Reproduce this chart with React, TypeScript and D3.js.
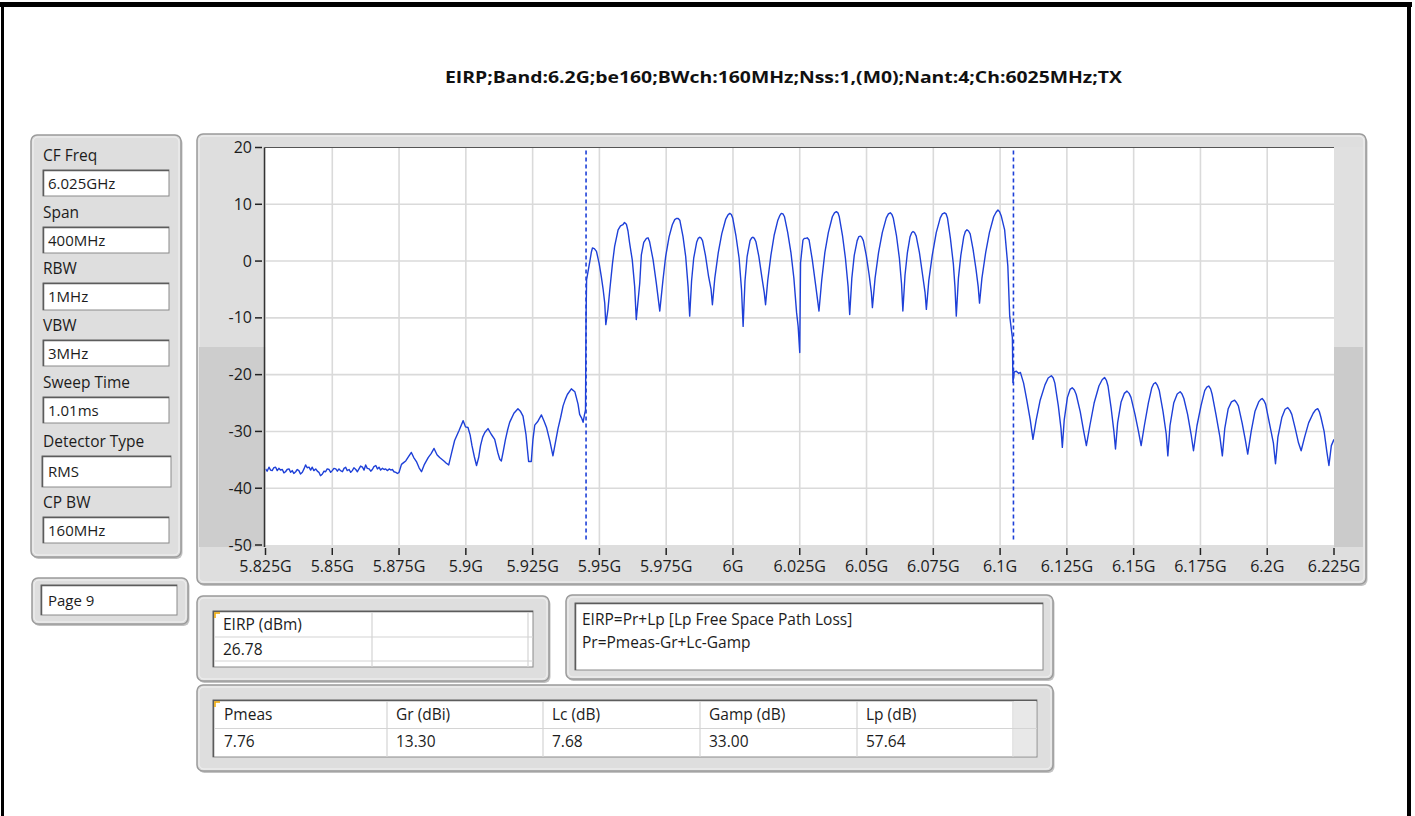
import React from "react";
import * as d3 from "d3";

// ---------- data ----------
const titleText = "EIRP;Band:6.2G;be160;BWch:160MHz;Nss:1,(M0);Nant:4;Ch:6025MHz;TX";

const fieldLabels = ["CF Freq", "Span", "RBW", "VBW", "Sweep Time", "Detector Type", "CP BW"];
const fieldValues = ["6.025GHz", "400MHz", "1MHz", "3MHz", "1.01ms", "RMS", "160MHz"];
const pageLabel = "Page 9";

const xTickValues = [5825, 5850, 5875, 5900, 5925, 5950, 5975, 6000, 6025, 6050, 6075, 6100, 6125, 6150, 6175, 6200, 6225];
const xTickLabels = ["5.825G", "5.85G", "5.875G", "5.9G", "5.925G", "5.95G", "5.975G", "6G", "6.025G", "6.05G", "6.075G", "6.1G", "6.125G", "6.15G", "6.175G", "6.2G", "6.225G"];
const yTickValues = [20, 10, 0, -10, -20, -30, -40, -50];
const markerFreqs = [5945, 6105];

const eirpHeaders = ["EIRP (dBm)", ""];
const eirpValues = ["26.78", ""];
const formulaLines = ["EIRP=Pr+Lp [Lp Free Space Path Loss]", "Pr=Pmeas-Gr+Lc-Gamp"];
const paramHeaders = ["Pmeas", "Gr (dBi)", "Lc (dB)", "Gamp (dB)", "Lp (dB)"];
const paramValues = ["7.76", "13.30", "7.68", "33.00", "57.64"];

// trace: [MHz, dBm]
const noiseFloor: [number, number][] = [
  [5825.0, -36.6], [5825.6, -37.0], [5826.3, -36.3], [5826.9, -36.8], [5827.5, -36.9], [5828.1, -36.4], [5828.8, -36.3], [5829.4, -36.9],
  [5830.0, -36.5], [5830.6, -36.8], [5831.3, -36.7], [5831.9, -37.3], [5832.5, -37.1], [5833.1, -36.7], [5833.8, -36.6], [5834.4, -37.2],
  [5835.0, -36.9], [5835.6, -37.4], [5836.3, -37.1], [5836.9, -36.7], [5837.5, -36.9], [5838.1, -37.5], [5838.8, -37.2], [5839.4, -36.6],
  [5840.0, -35.9], [5840.6, -36.4], [5841.3, -36.3], [5841.9, -36.8], [5842.5, -36.3], [5843.1, -36.9], [5843.8, -36.6], [5844.4, -37.0],
  [5845.0, -37.2], [5845.6, -37.8], [5846.3, -37.5], [5846.9, -37.0], [5847.5, -37.1], [5848.1, -36.6], [5848.8, -36.7], [5849.4, -37.2],
  [5850.0, -36.9], [5850.6, -36.5], [5851.3, -36.6], [5851.9, -37.0], [5852.5, -36.6], [5853.1, -36.9], [5853.8, -37.1], [5854.4, -36.5],
  [5855.0, -36.3], [5855.6, -36.9], [5856.3, -36.7], [5856.9, -37.2], [5857.5, -36.9], [5858.1, -36.4], [5858.8, -36.7], [5859.4, -37.1],
  [5860.0, -36.6], [5860.6, -36.1], [5861.3, -36.3], [5861.9, -36.8], [5862.5, -35.9], [5863.1, -36.5], [5863.8, -36.6], [5864.4, -37.0],
  [5865.0, -36.7], [5865.6, -36.2], [5866.3, -36.0], [5866.9, -36.6], [5867.5, -36.3], [5868.1, -36.8], [5868.8, -36.5], [5869.4, -36.7],
  [5870.0, -36.6], [5870.6, -36.9], [5871.3, -36.6], [5871.9, -36.8], [5872.5, -36.7], [5873.1, -37.1], [5873.8, -37.2], [5874.4, -37.4],
  [5875.0, -37.2],
];

const lowerSkirt: [number, number][] = [
  [5875.9, -35.8], [5876.7, -35.5], [5877.5, -35.2], [5878.6, -34.4], [5879.6, -33.7], [5880.5, -34.6], [5881.5, -35.3], [5882.5, -36.4],
  [5883.4, -37.1], [5884.5, -35.8], [5885.9, -34.6], [5887.0, -33.9], [5888.1, -33.0], [5889.2, -34.1], [5890.2, -34.6], [5891.8, -35.2],
  [5892.7, -35.6], [5893.6, -35.9], [5894.8, -33.5], [5895.8, -31.6], [5897.5, -29.8], [5899.0, -28.1], [5899.9, -29.2], [5900.8, -29.3],
  [5901.6, -30.6], [5902.3, -32.5], [5903.2, -34.5], [5904.0, -36.0], [5904.8, -34.6], [5905.5, -32.5], [5906.3, -31.0], [5907.1, -30.2],
  [5908.3, -29.5], [5909.5, -30.5], [5910.8, -31.4], [5912.0, -33.8], [5912.7, -34.9], [5913.3, -35.2], [5914.0, -33.5], [5914.8, -31.5],
  [5915.6, -29.8], [5916.4, -28.4], [5918.0, -26.8], [5919.5, -26.0], [5920.5, -26.5], [5921.4, -27.3], [5922.5, -30.5], [5923.5, -35.3],
  [5924.5, -35.3], [5925.1, -31.5], [5925.8, -28.9], [5927.0, -28.2], [5928.3, -27.1], [5929.3, -28.2], [5930.2, -29.3], [5931.5, -31.8],
  [5932.6, -34.3], [5933.5, -32.0], [5934.5, -29.5], [5935.5, -27.5], [5936.4, -25.5], [5937.2, -24.4], [5938.0, -23.5], [5939.5, -22.5],
  [5940.8, -23.0], [5942.0, -25.2], [5942.6, -27.0], [5943.3, -27.6], [5943.9, -28.4], [5944.4, -27.1], [5944.8, -26.2],
];

const inBand: [number, number][] = [
  [5945.0, -10.0], [5945.2, -3.3], [5946.4, -0.1], [5947.0, 1.6], [5947.4, 2.3], [5948.1, 2.2], [5948.9, 1.7], [5949.9, -0.4],
  [5950.7, -2.7], [5951.4, -5.0], [5952.0, -7.4], [5952.4, -11.2], [5953.2, -8.5], [5953.9, -5.0], [5954.9, -0.4], [5955.7, 2.6],
  [5957.0, 5.5], [5957.9, 6.2], [5958.8, 6.4], [5959.4, 6.8], [5960.1, 6.5], [5960.7, 5.3], [5961.3, 3.2], [5962.3, 0.2],
  [5963.2, -4.5], [5963.8, -10.3], [5965.1, -3.9], [5965.7, 1.1], [5966.6, 3.3], [5967.6, 4.0], [5968.2, 4.1], [5968.8, 3.4],
  [5970.1, 0.2], [5971.3, -3.9], [5972.6, -8.8], [5973.8, -3.3], [5974.8, 0.8], [5976.1, 4.3], [5977.3, 6.4], [5978.2, 7.3],
  [5978.8, 7.5], [5979.5, 7.5], [5980.1, 7.2], [5981.3, 4.3], [5982.3, 0.8], [5983.2, -4.5], [5983.8, -9.7],
  [5984.5, -3.5], [5985.3, 0.5], [5986.4, 3.3], [5987.0, 4.0], [5987.5, 4.2], [5988.0, 4.1], [5988.6, 3.6], [5989.7, 1.0], [5990.8, -2.5],
  [5991.8, -5.0], [5992.3, -7.7],
  [5993.2, -3.0], [5994.5, 1.5], [5995.8, 4.8], [5997.3, 7.4], [5998.1, 8.1], [5998.8, 8.4], [5999.4, 8.2], [5999.9, 7.6], [6001.1, 4.5],
  [6002.3, 0.5], [6003.2, -5.0], [6003.8, -11.5],
  [6004.5, -3.5], [6005.3, 0.8], [6006.4, 3.6], [6007.0, 4.1], [6007.5, 4.2], [6008.0, 4.0], [6008.6, 3.4], [6009.7, 0.8], [6010.8, -2.8],
  [6011.7, -5.5], [6012.2, -7.7],
  [6013.0, -3.5], [6014.2, 1.0], [6015.4, 4.5], [6016.8, 7.2], [6017.5, 8.0], [6018.1, 8.4], [6018.7, 8.3], [6019.3, 7.8], [6020.5, 5.0],
  [6021.7, 1.5], [6022.8, -3.0], [6023.8, -9.0], [6024.4, -11.5], [6025.0, -16.1],
  [6025.3, -0.3], [6026.2, 3.7], [6026.7, 4.0], [6027.2, 4.0], [6027.8, 4.1], [6028.5, 3.7], [6029.7, 0.2], [6031.0, -4.4], [6032.2, -8.8],
  [6033.2, -3.5], [6034.4, 1.5], [6035.7, 5.0], [6037.2, 7.8], [6038.0, 8.5], [6038.7, 8.7], [6039.3, 8.5], [6039.8, 7.8], [6041.0, 4.5],
  [6042.1, 0.5], [6043.1, -4.5], [6043.7, -9.4],
  [6044.5, -3.0], [6045.4, 1.0], [6046.5, 3.6], [6047.1, 4.3], [6047.7, 4.4], [6048.2, 4.2], [6048.8, 3.6], [6049.9, 1.0], [6051.0, -2.5],
  [6051.8, -5.5], [6052.2, -8.2],
  [6053.2, -3.0], [6054.5, 1.5], [6055.9, 5.0], [6057.4, 7.6], [6058.2, 8.3], [6058.9, 8.5], [6059.5, 8.2], [6060.0, 7.6], [6061.2, 4.5],
  [6062.3, 0.5], [6063.1, -4.0], [6063.6, -8.8],
  [6064.4, -2.5], [6065.3, 1.5], [6066.3, 4.3], [6066.9, 5.0], [6067.4, 5.2], [6068.0, 5.0], [6068.6, 4.4], [6069.8, 1.5], [6071.0, -2.5],
  [6071.9, -5.5], [6072.4, -8.5],
  [6073.3, -3.5], [6074.6, 1.0], [6076.1, 5.0], [6077.6, 7.6], [6078.4, 8.3], [6079.2, 8.5], [6079.8, 8.3], [6080.3, 7.6], [6081.4, 4.0],
  [6082.5, -0.5], [6083.1, -4.5], [6083.6, -9.7],
  [6084.4, -3.0], [6085.3, 1.0], [6086.4, 4.3], [6087.0, 5.2], [6087.6, 5.5], [6088.2, 5.3], [6088.8, 4.8], [6089.9, 2.0], [6091.0, -1.5],
  [6091.8, -4.5], [6092.3, -7.4],
  [6093.2, -3.0], [6094.6, 1.5], [6096.0, 5.0], [6097.6, 7.8], [6098.5, 8.6], [6099.2, 9.0], [6099.8, 8.7], [6100.4, 8.0], [6101.7, 5.5],
  [6102.9, -0.9], [6103.6, -9.7], [6104.6, -13.5], [6104.8, -21.4],
];

const upperSkirt: [number, number][] = [
  [6105.3, -19.5], [6106.1, -19.4], [6107.0, -19.8], [6107.6, -19.6], [6108.8, -21.5], [6110.0, -24.5], [6111.3, -28.0], [6112.3, -31.4],
  [6113.5, -28.0], [6115.0, -24.5], [6116.8, -21.8], [6118.0, -20.6], [6119.2, -20.2], [6119.9, -20.6], [6120.5, -21.5], [6121.8, -25.5],
  [6122.8, -29.5], [6123.3, -32.8],
  [6124.0, -28.0], [6125.2, -24.0], [6126.2, -22.6], [6127.0, -22.3], [6127.8, -22.7], [6128.5, -23.5], [6130.0, -26.5], [6131.3, -30.0],
  [6132.3, -32.5],
  [6133.6, -29.0], [6135.2, -25.0], [6137.0, -22.0], [6138.2, -20.9], [6139.1, -20.5], [6139.8, -21.0], [6140.4, -22.0], [6141.6, -26.0],
  [6142.6, -30.0], [6143.2, -33.1],
  [6144.0, -28.5], [6145.3, -24.8], [6146.5, -23.3], [6147.5, -22.9], [6148.3, -23.3], [6149.0, -24.0], [6150.5, -27.0], [6151.8, -30.0],
  [6152.8, -32.5],
  [6154.0, -29.0], [6155.5, -25.0], [6156.8, -22.3], [6157.5, -21.6], [6158.2, -21.4], [6158.9, -21.9], [6159.6, -22.8], [6161.0, -26.5],
  [6162.2, -30.5], [6162.8, -34.3],
  [6163.6, -29.0], [6165.0, -25.0], [6166.3, -23.4], [6167.4, -23.0], [6168.1, -23.4], [6168.8, -24.2], [6170.2, -27.0], [6171.5, -30.5],
  [6172.4, -33.4],
  [6173.7, -29.0], [6175.2, -25.5], [6176.6, -22.8], [6177.4, -22.2], [6178.1, -22.0], [6178.8, -22.5], [6179.4, -23.5], [6180.8, -27.0],
  [6182.3, -31.0], [6183.2, -34.3],
  [6184.1, -29.5], [6185.4, -26.0], [6186.6, -24.8], [6187.8, -24.5], [6188.5, -24.9], [6189.2, -25.5], [6190.6, -28.5], [6191.8, -31.5],
  [6192.7, -34.0],
  [6194.0, -30.0], [6195.4, -26.5], [6196.8, -24.8], [6197.5, -24.4], [6198.1, -24.2], [6198.8, -24.6], [6199.4, -25.2], [6200.8, -28.5],
  [6202.3, -32.0], [6203.1, -35.7],
  [6204.0, -31.0], [6205.5, -27.5], [6206.7, -26.1], [6207.7, -25.8], [6208.5, -26.3], [6209.2, -27.0], [6210.5, -29.5], [6211.7, -32.0],
  [6212.7, -33.4],
  [6214.0, -31.0], [6215.5, -28.5], [6217.2, -26.8], [6218.1, -26.2], [6218.9, -26.0], [6219.5, -26.5], [6220.1, -27.5], [6221.3, -30.0],
  [6222.3, -33.5], [6223.1, -36.0], [6224.0, -32.5], [6225.0, -31.4],
];

// ---------- styling ----------
const FONT = "'Segoe UI', 'Open Sans', 'Noto Sans', sans-serif";
const TXT = "#1c1c1c";
const TRACE = "#1e40d8";

function Panel({ x, y, w, h }: { x: number; y: number; w: number; h: number }) {
  return (
    <g>
      <rect x={x + 1.5} y={y + 2} width={w} height={h} rx={6} fill="#c2c2c2" />
      <rect x={x} y={y} width={w} height={h} rx={6} fill="#dedede" stroke="#9b9b9b" strokeWidth={1.5} />
      <rect x={x + 2} y={y + 2} width={w - 4} height={h - 4} rx={5} fill="none" stroke="#f2f2f2" strokeWidth={1} />
    </g>
  );
}

function Inset({ x, y, w, h }: { x: number; y: number; w: number; h: number }) {
  return (
    <g>
      <rect x={x} y={y} width={w} height={h} fill="#ffffff" stroke="#8a8a8a" strokeWidth={1} />
      <path d={`M${x + 0.5},${y + h} V${y + 0.5} H${x + w}`} fill="none" stroke="#5c5c5c" strokeWidth={1.5} />
    </g>
  );
}

export default function App() {
  const x = d3.scaleLinear().domain([5825, 6225]).range([265.5, 1334]);
  const y = d3.scaleLinear().domain([-50, 20]).range([545, 147.5]);
  const trace = [...noiseFloor, ...lowerSkirt, ...inBand, ...upperSkirt];
  const line = d3
    .line<[number, number]>()
    .x((d) => x(d[0]))
    .y((d) => y(d[1]));

  const plotL = x(5825);
  const plotR = x(6225);
  const plotT = y(20);
  const plotB = y(-50);

  // left panel layout
  const boxTops = [170, 227, 283, 340, 397, 456, 517];
  const boxHeights = [26, 26, 27, 26, 26, 31, 26];

  const paramCols = [213, 387, 543, 700, 857, 1013];

  return (
    <svg
      width={1415}
      height={816}
      style={{ position: "absolute", left: 0, top: 0, display: "block", background: "#ffffff" }}
      fontFamily={FONT}
    >
      <rect x={0} y={0} width={1415} height={816} fill="#ffffff" />
      {/* black frame */}
      <rect x={0} y={2} width={1412} height={5} fill="#000" />
      <rect x={1} y={2} width={3} height={814} fill="#000" />
      <rect x={1407} y={2} width={4} height={814} fill="#000" />

      {/* title */}
      <text
        x={783.5}
        y={83}
        textAnchor="middle"
        fontSize={16}
        fontWeight="bold"
        fill="#111"
        textLength={677}
        lengthAdjust="spacingAndGlyphs"
      >
        {titleText}
      </text>

      {/* left settings panel */}
      <Panel x={31} y={135} w={150} h={422} />
      {fieldLabels.map((lab, i) => (
        <g key={lab}>
          <text x={43} y={boxTops[i] - 9} fontSize={15.5} fill={TXT}>
            {lab}
          </text>
          <Inset x={i === 5 ? 42 : 43} y={boxTops[i]} w={i === 5 ? 129 : 126} h={boxHeights[i]} />
          <text x={48} y={boxTops[i] + boxHeights[i] / 2 + 5.5} fontSize={15} fill={TXT}>
            {fieldValues[i]}
          </text>
        </g>
      ))}

      {/* page panel */}
      <Panel x={32} y={578} w={156} h={46} />
      <Inset x={41} y={585} w={136} h={30} />
      <text x={48} y={606} fontSize={15} fill={TXT}>
        {pageLabel}
      </text>

      {/* chart panel */}
      <Panel x={197} y={134} w={1169} h={450} />
      <rect x={199} y={347} width={plotL - 199} height={plotB + 2 - 347} fill="#cdcdcd" />
      <rect x={plotR} y={147} width={1363 - plotR} height={200} fill="#e0e0e0" />
      <rect x={plotR} y={347} width={1363 - plotR} height={plotB + 2 - 347} fill="#cbcbcb" />
      <rect x={plotL} y={plotT} width={plotR - plotL} height={plotB - plotT} fill="#ffffff" />

      {/* grid */}
      {yTickValues.slice(1, -1).map((v) => (
        <line key={"gy" + v} x1={plotL} x2={plotR} y1={y(v)} y2={y(v)} stroke="#dadada" strokeWidth={1.6} />
      ))}
      {xTickValues.slice(1, -1).map((v) => (
        <line key={"gx" + v} x1={x(v)} x2={x(v)} y1={plotT} y2={plotB} stroke="#dadada" strokeWidth={1.6} />
      ))}

      {/* plot borders */}
      <line x1={plotL - 1} x2={plotR} y1={plotT} y2={plotT} stroke="#555" strokeWidth={1.2} />
      <line x1={plotL - 1} x2={plotL - 1} y1={plotT} y2={plotB + 2} stroke="#333" strokeWidth={1.5} />

      {/* y axis */}
      {yTickValues.map((v) => (
        <g key={"yt" + v}>
          <line x1={255} x2={262} y1={y(v)} y2={y(v)} stroke="#222" strokeWidth={1.5} />
          <text x={252} y={y(v) + 5.5} textAnchor="end" fontSize={16} fill={TXT}>
            {v}
          </text>
        </g>
      ))}

      {/* x axis */}
      {xTickValues.map((v, i) => (
        <g key={"xt" + v}>
          <line x1={x(v)} x2={x(v)} y1={plotB + 3} y2={plotB + 10} stroke="#222" strokeWidth={1.5} />
          <text x={x(v)} y={plotB + 27} textAnchor="middle" fontSize={16} fill={TXT}>
            {xTickLabels[i]}
          </text>
        </g>
      ))}

      {/* markers */}
      {markerFreqs.map((f) => (
        <line
          key={"m" + f}
          x1={x(f)}
          x2={x(f)}
          y1={plotT + 3}
          y2={plotB - 3}
          stroke={TRACE}
          strokeWidth={1.6}
          strokeDasharray="4 3"
        />
      ))}

      {/* trace */}
      <defs>
        <clipPath id="plotClip">
          <rect x={plotL} y={plotT} width={plotR - plotL} height={plotB - plotT} />
        </clipPath>
      </defs>
      <path d={line(trace) || ""} fill="none" stroke={TRACE} strokeWidth={1.4} strokeLinejoin="round" clipPath="url(#plotClip)" />

      {/* EIRP table */}
      <Panel x={197} y={596} w={352} h={85} />
      <Inset x={213} y={611} w={320} h={56} />
      <line x1={214} x2={533} y1={637} y2={637} stroke="#d4d4d4" strokeWidth={1.2} />
      <line x1={214} x2={533} y1={661} y2={661} stroke="#d4d4d4" strokeWidth={1.2} />
      <line x1={372} x2={372} y1={612} y2={667} stroke="#d4d4d4" strokeWidth={1.2} />
      <line x1={528} x2={528} y1={612} y2={667} stroke="#d4d4d4" strokeWidth={1.2} />
      <path d="M215,618 V613 H220" fill="none" stroke="#f0a800" strokeWidth={1.5} />
      {eirpHeaders.map((h, i) => (
        <text key={"eh" + i} x={223 + i * 159} y={630} fontSize={15.5} fill={TXT}>
          {h}
        </text>
      ))}
      {eirpValues.map((v, i) => (
        <text key={"ev" + i} x={223 + i * 159} y={655} fontSize={15.5} fill={TXT}>
          {v}
        </text>
      ))}

      {/* formula box */}
      <Panel x={566} y={595} w={487} h={84} />
      <Inset x={575} y={603} w={468} h={67} />
      {formulaLines.map((t, i) => (
        <text key={"f" + i} x={582} y={625 + i * 23} fontSize={15.5} fill={TXT}>
          {t}
        </text>
      ))}

      {/* params table */}
      <Panel x={197} y={685} w={856} h={86} />
      <Inset x={213} y={700} w={824} h={57} />
      <rect x={1014} y={701} width={22} height={55} fill="#e8e8e8" />
      <line x1={214} x2={1037} y1={728.5} y2={728.5} stroke="#d4d4d4" strokeWidth={1.2} />
      {paramCols.slice(1).map((c) => (
        <line key={"pc" + c} x1={c} x2={c} y1={701} y2={757} stroke="#d4d4d4" strokeWidth={1.2} />
      ))}
      <path d="M215,707 V702 H220" fill="none" stroke="#f0a800" strokeWidth={1.5} />
      {paramHeaders.map((h, i) => (
        <text key={"ph" + i} x={paramCols[i] + (i === 0 ? 11 : 9)} y={720} fontSize={15.5} fill={TXT}>
          {h}
        </text>
      ))}
      {paramValues.map((v, i) => (
        <text key={"pv" + i} x={paramCols[i] + (i === 0 ? 11 : 9)} y={747} fontSize={15.5} fill={TXT}>
          {v}
        </text>
      ))}
    </svg>
  );
}
